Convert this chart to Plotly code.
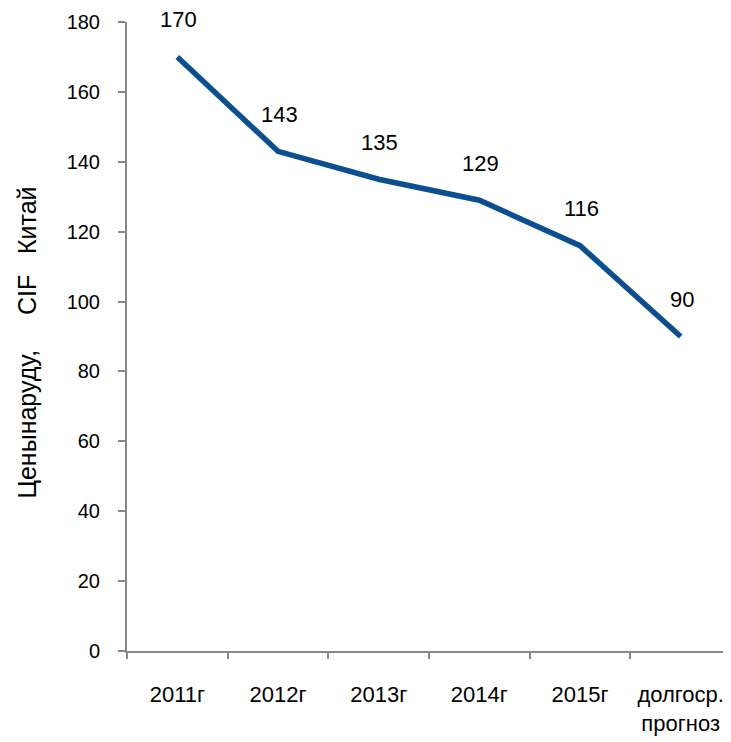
import plotly.graph_objects as go

categories = ["2011г", "2012г", "2013г", "2014г", "2015г", "долгоср. прогноз"]
tick_labels = ["2011г", "2012г", "2013г", "2014г", "2015г", "долгоср.<br>прогноз"]
prices = [170, 143, 135, 129, 116, 90]
y_ticks = [0, 20, 40, 60, 80, 100, 120, 140, 160, 180]

REG = "Liberation Sans, Arial, sans-serif"
AXIS = "#868686"

fig = go.Figure()
fig.add_trace(go.Scatter(
    x=categories, y=prices, mode="lines",
    line=dict(color="#0B4F91", width=5.5), hoverinfo="x+y", showlegend=False,
))

# подписи значений над точками
for c, v in zip(categories, prices):
    fig.add_annotation(x=c, y=v, text=str(v), showarrow=False, yshift=37, xshift=1,
                       font=dict(family=REG, size=22, color="#000"))

fig.add_annotation(
    xref="paper", yref="paper", x=-0.166, y=0.49, xanchor="center", yanchor="middle",
    text="Ценынаруду,     CIF   Китай", textangle=-90, showarrow=False,
    font=dict(family=REG, size=25, color="#000"),
)

# страница имеет отступ 8px, поэтому поля уменьшены на 8
fig.update_layout(
    width=723, height=734,
    margin=dict(l=119, r=0, t=14, b=91),
    plot_bgcolor="white", paper_bgcolor="white",
    xaxis=dict(
        type="category", categoryorder="array", categoryarray=categories,
        tickvals=categories, ticktext=tick_labels, range=[-0.5, 5.5],
        showline=True, linecolor=AXIS, linewidth=2, showgrid=False, zeroline=False,
        ticks="outside", tickson="boundaries", ticklen=6, tickcolor=AXIS, tickwidth=2,
        ticklabelstandoff=23, tickangle=0, automargin=False,
        tickfont=dict(family=REG, size=22, color="#000"),
    ),
    yaxis=dict(
        range=[0, 180], tickvals=y_ticks,
        showline=True, linecolor=AXIS, linewidth=2, showgrid=False, zeroline=False,
        ticks="outside", ticklen=7, tickcolor=AXIS, tickwidth=2,
        ticklabelstandoff=14, automargin=False,
        tickfont=dict(family=REG, size=20, color="#000"),
    ),
)

fig.write_html("out.html")
